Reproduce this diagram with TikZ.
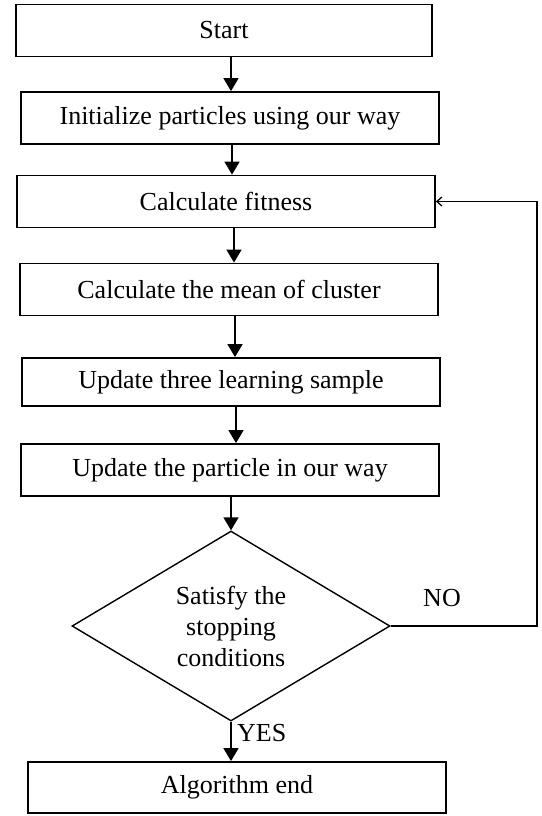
\documentclass[tikz,border=0pt]{standalone}
\usepackage{fontspec}
\setmainfont{Liberation Serif}
\usetikzlibrary{arrows.meta, positioning, shapes.geometric}
\tikzset{
    box/.style ={rectangle, draw, line width=1.8pt, minimum width=418pt,
                 minimum height=52pt, inner sep=0pt},
    decide/.style ={diamond, draw, line width=1.4pt, aspect=1.65,
                 minimum width=318pt, minimum height=190pt, inner sep=0pt, align=center},
    flow/.style ={line width=1.6pt, -{Triangle[width=15pt,length=13pt]}},
    back/.style ={line width=1.3pt, -{Straight Barb[width=9pt,length=5pt]}}
    }

\begin{document}
\begin{tikzpicture}[
      x=1pt, y=1pt,
      font=\fontsize{26}{31}\selectfont
    ]
    \useasboundingbox (0,0) rectangle (541,-816);

    \node[box, minimum width=416pt] (start) at (224,-30.5) {Start};
    \node[box] (init) at (230,-118) {Initialize particles using our way};
    \node[box] (fit) at (226,-201.5) {Calculate fitness};
    \node[box] (mean) at (229,-289.5) {Calculate the mean of cluster};
    \node[box, minimum height=48pt] (learn) at (231,-382) {Update three learning sample};
    \node[box] (upd) at (230,-470) {Update the particle in our way};
    \node[decide] (cond) at (231,-626) {Satisfy the\\stopping\\conditions};
    \node[box, minimum height=51pt] (finish) at (237,-787.5) {Algorithm end};

    % main flow
    \draw[flow] (start.south -| 231,0) -- (init.north -| 231,0);
    \draw[flow] (init.south -| 232,0) -- (fit.north -| 232,0);
    \draw[flow] (fit.south -| 234,0) -- (mean.north -| 234,0);
    \draw[flow] (mean.south -| 235,0) -- (learn.north -| 235,0);
    \draw[flow] (learn.south -| 236,0) -- (upd.north -| 236,0);
    \draw[flow] (upd.south -| 231,0) -- (cond.north);
    \draw[flow] (cond.south) -- (cond.south |- finish.north);

    % loop back
    \coordinate (turn) at (537,0);
    \draw[back] (cond.east) -- (cond.east -| turn) |- (fit.east);

    \node (no) at (442,-598) {NO};
    \node[anchor=west, inner sep=0pt] (yes) at (237,-733) {YES};
\end{tikzpicture}
\end{document}
